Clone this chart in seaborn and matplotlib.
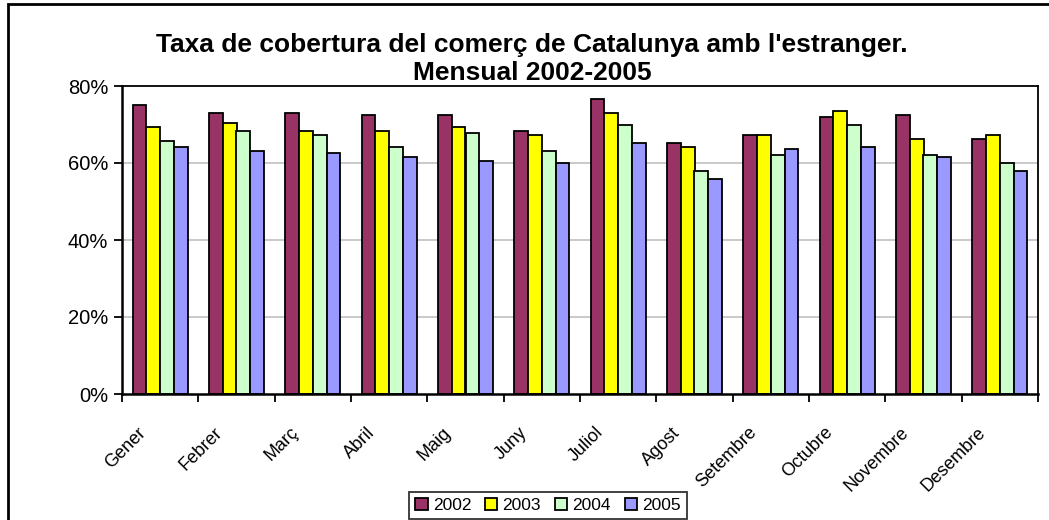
import numpy as np
import pandas as pd
import matplotlib
matplotlib.use("Agg")
import matplotlib.pyplot as plt
import matplotlib.transforms as mtransforms
from matplotlib.patches import Rectangle, Patch
from matplotlib.ticker import FuncFormatter, MultipleLocator
import seaborn as sns

# data (%)
months = ["Gener", "Febrer", "Març", "Abril", "Maig", "Juny", "Juliol",
          "Agost", "Setembre", "Octubre", "Novembre", "Desembre"]
years = ["2002", "2003", "2004", "2005"]
v2002 = [75.1, 73.0, 73.0, 72.5, 72.5, 68.4, 76.7, 65.3, 67.3, 72.0, 72.5, 66.3]
v2003 = [69.3, 70.5, 68.4, 68.4, 69.3, 67.3, 73.0, 64.2, 67.3, 73.6, 66.3, 67.3]
v2004 = [65.7, 68.4, 67.3, 64.2, 67.9, 63.2, 69.9, 58.0, 62.2, 69.9, 62.2, 60.1]
v2005 = [64.2, 63.2, 62.7, 61.6, 60.6, 60.1, 65.3, 55.9, 63.7, 64.2, 61.6, 58.0]
colors = ["#993366", "#FFFF00", "#CCFFCC", "#9999FF"]

df = pd.DataFrame({
    "mes": months * 4,
    "any": np.repeat(years, len(months)),
    "valor": v2002 + v2003 + v2004 + v2005,
})

sns.set_theme(style="white")
plt.rcParams["font.family"] = ["Liberation Sans", "DejaVu Sans"]
for k in ["text.color", "axes.labelcolor", "xtick.color", "ytick.color"]:
    plt.rcParams[k] = "black"

W, H = 1049, 520
fig = plt.figure(figsize=(W / 100, H / 100), dpi=100)
ax = fig.add_axes([122 / W, 1 - 394 / H, (1038 - 122) / W, (394 - 86) / H])

sns.barplot(data=df, x="mes", y="valor", hue="any", order=months,
            hue_order=years, palette=colors, width=0.72, gap=0,
            edgecolor="black", linewidth=1.3, saturation=1, ax=ax,
            legend=False)

ax.set_xlim(-0.5, len(months) - 0.5)
ax.set_ylim(0, 80)
ax.yaxis.set_major_locator(MultipleLocator(20))
ax.yaxis.set_major_formatter(FuncFormatter(lambda v, p: f"{v:.0f}%"))
for yv in [20, 40, 60]:
    ax.axhline(yv, color="#c0c0c0", lw=1.2, zorder=0)
ax.set_xlabel("")
ax.set_ylabel("")

for s in ax.spines.values():
    s.set_visible(True)
    s.set_color("black")
    s.set_linewidth(1.3)
ax.spines["left"].set_linewidth(1.8)
ax.spines["bottom"].set_linewidth(1.8)

ax.tick_params(axis="y", left=True, direction="out", length=6, width=1.3,
               labelsize=14.5, pad=4, colors="black")
ax.set_xticks(np.arange(len(months)))
ax.set_xticklabels(months)
ax.set_xticks(np.arange(-0.5, len(months)), minor=True)
ax.tick_params(axis="x", which="major", bottom=False, length=0, labelsize=13,
               pad=0)
ax.tick_params(axis="x", which="minor", bottom=True, direction="out",
               length=6, width=1.3, color="black")
offset = mtransforms.ScaledTranslation(-0.17, -0.36, fig.dpi_scale_trans)
for lab in ax.get_xticklabels():
    lab.set_rotation(45)
    lab.set_rotation_mode("anchor")
    lab.set_ha("right")
    lab.set_va("center")
    lab.set_transform(lab.get_transform() + offset)

fig.text(532 / W, 1 - 59 / H,
         "Taxa de cobertura del comerç de Catalunya amb l'estranger.\nMensual 2002-2005",
         ha="center", va="center", fontsize=19, fontweight="bold",
         linespacing=1.25)

handles = [Patch(facecolor=c, edgecolor="black", linewidth=1.3) for c in colors]
leg = fig.legend(handles, years, loc="upper center",
                 bbox_to_anchor=(548 / W, 1 - 492 / H), ncol=4,
                 frameon=True, fancybox=False, fontsize=12.5,
                 handlelength=0.7, handleheight=0.7, handletextpad=0.3,
                 columnspacing=0.8, borderpad=0.35, borderaxespad=0)
leg.get_frame().set_edgecolor("black")
leg.get_frame().set_linewidth(1.3)

fig.patches.append(Rectangle((8 / W, -0.1), 1.2, 1 - 4 / H + 0.1,
                             transform=fig.transFigure, fill=False,
                             edgecolor="black", linewidth=2, clip_on=False))

fig.savefig("out.png", dpi=100)
